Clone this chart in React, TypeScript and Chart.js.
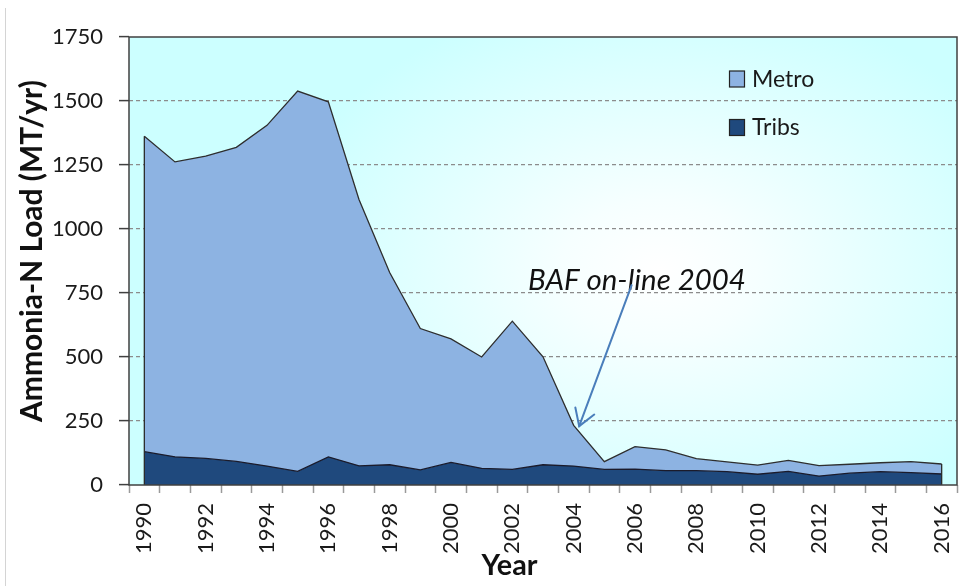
import React, { useEffect, useRef } from 'react';
import { Chart, registerables } from 'chart.js';

Chart.register(...registerables);

const years = ['1990','1991','1992','1993','1994','1995','1996','1997','1998','1999','2000','2001','2002','2003','2004','2005','2006','2007','2008','2009','2010','2011','2012','2013','2014','2015','2016'];
const tribs = [130, 110, 104, 92, 74, 53, 110, 75, 79, 59, 88, 65, 61, 79, 74, 61, 62, 56, 56, 52, 42, 53, 35, 46, 52, 48, 43];
const metro = [1232, 1152, 1181, 1227, 1331, 1486, 1387, 1040, 751, 552, 483, 435, 579, 422, 159, 30, 88, 81, 47, 38, 36, 43, 41, 35, 35, 43, 39];
const yTicks = [0, 250, 500, 750, 1000, 1250, 1500, 1750];

const seriesNames = ['Tribs', 'Metro'];
const seriesColors = ['#1F497D', '#8DB3E2'];
const yTitle = 'Ammonia-N Load (MT/yr)';
const xTitle = 'Year';
const noteText = 'BAF on-line 2004';
// annotation anchors in data units: [category index, value]
const noteAnchor = [12.51, 762];
const arrowStart = [15.89, 781];
const arrowTip = [14.18, 230];

const FONT = 'Lato, "Open Sans", sans-serif';

function fitFont(ctx: CanvasRenderingContext2D, text: string, style: string, width: number) {
  ctx.font = `${style} 100px ${FONT}`;
  const w = ctx.measureText(text).width;
  return 100 * width / w;
}

const deco = {
  id: 'deco',
  beforeDraw(chart: any) {
    const { ctx, chartArea } = chart;
    const { left, top, right, bottom } = chartArea;
    const w = right - left, h = bottom - top;
    ctx.save();
    ctx.strokeStyle = '#d4d4d4';
    ctx.lineWidth = 1;
    ctx.beginPath();
    ctx.moveTo(5.5, 8);
    ctx.lineTo(5.5, 586);
    ctx.stroke();
    ctx.beginPath();
    ctx.rect(left, top, w, h);
    ctx.clip();
    ctx.fillStyle = '#CCFFFF';
    ctx.fillRect(left, top, w, h);
    const cx = left + 0.64 * w, cy = top + 0.52 * h;
    ctx.translate(cx, cy);
    ctx.scale(1, 0.72);
    const g = ctx.createRadialGradient(0, 0, 0, 0, 0, 390);
    g.addColorStop(0, '#ffffff');
    g.addColorStop(0.25, '#f6ffff');
    g.addColorStop(1, '#CCFFFF');
    ctx.fillStyle = g;
    ctx.fillRect(-2000, -2000, 4000, 4000);
    ctx.restore();
  },
  afterDatasetsDraw(chart: any) {
    const { ctx, chartArea } = chart;
    const { left, top, right, bottom } = chartArea;
    const yS = chart.scales.y;
    const metaM = chart.getDatasetMeta(1);
    const n = metaM.data.length;
    const y0 = yS.getPixelForValue(0);
    ctx.save();
    ctx.strokeStyle = '#2a2a2a';
    ctx.lineWidth = 1.3;
    [0, n - 1].forEach((i) => {
      const p = metaM.data[i];
      ctx.beginPath();
      ctx.moveTo(p.x, p.y);
      ctx.lineTo(p.x, y0);
      ctx.stroke();
    });
    ctx.strokeStyle = '#404040';
    ctx.lineWidth = 1.5;
    ctx.strokeRect(left, top, right - left, bottom - top);
    ctx.restore();
  },
  afterDraw(chart: any) {
    const { ctx, chartArea } = chart;
    const { top, bottom } = chartArea;
    const xS = chart.scales.x;
    const yS = chart.scales.y;
    ctx.save();
    const items = [
      { name: seriesNames[1], color: seriesColors[1], y: 78.5 },
      { name: seriesNames[0], color: seriesColors[0], y: 127 },
    ];
    ctx.font = `23px ${FONT}`;
    ctx.textBaseline = 'middle';
    ctx.textAlign = 'left';
    items.forEach((it) => {
      ctx.fillStyle = it.color;
      ctx.fillRect(729.5, it.y - 7.5, 15, 16);
      ctx.strokeStyle = '#222';
      ctx.lineWidth = 1.2;
      ctx.strokeRect(729.5, it.y - 7.5, 15, 16);
      ctx.fillStyle = '#1a1a1a';
      ctx.fillText(it.name, 752, it.y + 1);
    });
    const nx = xS.getPixelForValue(noteAnchor[0]);
    const ny = yS.getPixelForValue(noteAnchor[1]);
    const ns = fitFont(ctx, noteText, 'italic', 218);
    ctx.font = `italic ${ns}px ${FONT}`;
    ctx.fillStyle = '#111';
    ctx.textBaseline = 'alphabetic';
    ctx.fillText(noteText, nx, ny);
    const sx = xS.getPixelForValue(arrowStart[0]);
    const sy = yS.getPixelForValue(arrowStart[1]);
    const tx = xS.getPixelForValue(arrowTip[0]);
    const ty = yS.getPixelForValue(arrowTip[1]);
    ctx.strokeStyle = '#4A7EBB';
    ctx.lineWidth = 2;
    ctx.lineCap = 'round';
    ctx.beginPath();
    ctx.moveTo(sx, sy);
    ctx.lineTo(tx, ty);
    ctx.stroke();
    const ang = Math.atan2(sy - ty, sx - tx);
    const L = 19;
    const spread = 0.56;
    ctx.beginPath();
    ctx.moveTo(tx + L * Math.cos(ang - spread), ty + L * Math.sin(ang - spread));
    ctx.lineTo(tx, ty);
    ctx.lineTo(tx + L * Math.cos(ang + spread), ty + L * Math.sin(ang + spread));
    ctx.stroke();
    const ys = fitFont(ctx, yTitle, 'bold', 342);
    ctx.translate(32, (top + bottom) / 2 - 10);
    ctx.rotate(-Math.PI / 2);
    ctx.font = `bold ${ys}px ${FONT}`;
    ctx.fillStyle = '#111';
    ctx.textAlign = 'center';
    ctx.textBaseline = 'middle';
    ctx.fillText(yTitle, 0, 0);
    ctx.restore();
    ctx.save();
    const xs = fitFont(ctx, xTitle, 'bold', 56);
    ctx.font = `bold ${xs}px ${FONT}`;
    ctx.fillStyle = '#111';
    ctx.textAlign = 'center';
    ctx.textBaseline = 'alphabetic';
    ctx.fillText(xTitle, 509.5, 575);
    ctx.restore();
  },
};

export default function App() {
  const ref = useRef<HTMLCanvasElement | null>(null);
  useEffect(() => {
    const canvas = ref.current;
    if (!canvas) return;
    const tickFont = { family: FONT, size: 22 };
    const chart = new Chart(canvas, {
      type: 'line',
      data: {
        labels: years,
        datasets: [
          {
            label: seriesNames[0],
            data: tribs,
            fill: 'origin',
            backgroundColor: seriesColors[0],
            borderColor: '#1b1b2b',
            borderWidth: 1.3,
            pointRadius: 0,
            tension: 0,
          },
          {
            label: seriesNames[1],
            data: metro,
            fill: '-1',
            backgroundColor: seriesColors[1],
            borderColor: '#2e2e2e',
            borderWidth: 1.3,
            pointRadius: 0,
            tension: 0,
          },
        ],
      },
      options: {
        animation: false,
        responsive: false,
        devicePixelRatio: 1,
        layout: { padding: { top: 37, right: 2, left: 0, bottom: 0 } },
        plugins: { legend: { display: false }, tooltip: { enabled: false }, title: { display: false } },
        scales: {
          x: {
            type: 'category',
            offset: true,
            grid: {
              offset: true,
              drawOnChartArea: false,
              drawTicks: true,
              tickLength: 8,
              tickColor: '#9a9a9a',
              tickWidth: 1.5,
            },
            border: { display: false },
            ticks: {
              autoSkip: false,
              minRotation: 90,
              maxRotation: 90,
              padding: 10,
              color: '#1a1a1a',
              font: tickFont,
              callback: (_v: any, i: number) => (i % 2 === 0 ? years[i] : ''),
            },
            afterFit: (s: any) => { s.height = 101; s.paddingLeft = 0; s.paddingRight = 0; },
          },
          y: {
            stacked: true,
            min: 0,
            max: 1750,
            afterBuildTicks: (s: any) => { s.ticks = yTicks.map((v) => ({ value: v })); },
            ticks: { padding: 16, color: '#1a1a1a', font: tickFont, callback: (v: any) => String(v) },
            grid: {
              color: (c: any) => (c.tick && (c.tick.value === 0 || c.tick.value === 1750) ? 'rgba(0,0,0,0)' : '#8c8c8c'),
              lineWidth: 1.2,
              tickLength: 10,
              tickColor: '#404040',
              tickWidth: 1.5,
              tickBorderDash: [],
            },
            border: { display: false, dash: [4, 3] },
            afterFit: (s: any) => { s.width = 129; s.paddingTop = 0; s.paddingBottom = 0; },
          },
        },
      },
      plugins: [deco],
    } as any);
    return () => chart.destroy();
  }, []);
  return (
    <div style={{ position: 'fixed', left: 0, top: 0, width: 959, height: 586, background: '#fff' }}>
      <canvas ref={ref} width={959} height={586} style={{ display: 'block', width: 959, height: 586 }} />
    </div>
  );
}
